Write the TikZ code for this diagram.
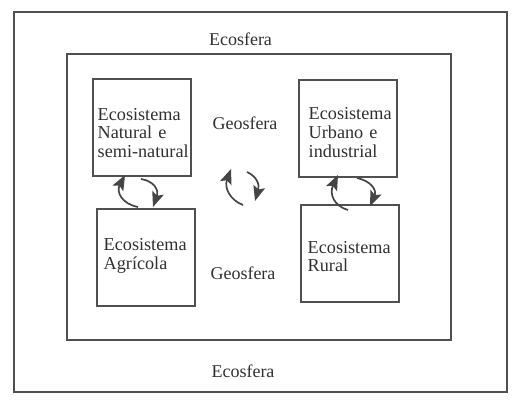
\documentclass[tikz,border=0pt]{standalone}
\usepackage{fontspec}
\setmainfont{Liberation Serif}
\usetikzlibrary{arrows.meta}
\definecolor{linegray}{HTML}{505050}
\definecolor{textgray}{HTML}{303030}
\definecolor{arrowgray}{HTML}{454545}
\tikzset{
  frame/.style={draw=linegray, line width=2pt},
  ecobox/.style={draw=linegray, line width=2pt, minimum width=98pt, minimum height=97pt, inner sep=0pt},
  ecotext/.style={text width=92pt, inner sep=0pt, align=left, text=textgray, anchor=west,
    font=\fontsize{18.2pt}{18.6pt}\selectfont},
  label/.style={text=textgray, inner sep=0pt, font=\fontsize{18pt}{18.6pt}\selectfont},
  cyc/.style={draw=arrowgray, line width=1.7pt, -{Stealth[length=15pt,width=12pt,inset=3pt]}}
}
\begin{document}
\begin{tikzpicture}[x=1pt,y=-1pt]
\useasboundingbox (0,0) rectangle (520,403);
\draw[frame] (14,12) rectangle (507,392);
\draw[frame] (67,54) rectangle (451,340);

\node[ecobox] (nat) at (142,128) {};
\node[ecobox] (agr) at (146,257.5) {};
\node[ecobox] (urb) at (348,128.5) {};
\node[ecobox] (rur) at (349.5,254) {};

\node[ecotext] (natT) at (97.5,133) {Ecosistema\\Natural e\\semi-natural};
\node[ecotext] (agrT) at (103.5,256) {Ecosistema\\Agrícola};
\node[ecotext] (urbT) at (308.5,132.5) {Ecosistema\\Urbano e\\industrial};
\node[ecotext] (rurT) at (307.5,256.5) {Ecosistema\\Rural};

\node[label] (eco1) at (240.5,39) {Ecosfera};
\node[label] (eco2) at (243,371) {Ecosfera};
\node[label] (geo1) at (245,123) {Geosfera};
\node[label] (geo2) at (243,273) {Geosfera};

% left pair
\coordinate (l1s) at (138,207);
\coordinate (l1e) at (125,175);
\coordinate (l2s) at (141,179);
\coordinate (l2e) at (153,207);
\draw[cyc] (l1s) .. controls (122,204) and (116,192) .. (l1e);
\draw[cyc] (l2s) .. controls (154,181) and (159,190) .. (l2e);
% middle pair
\coordinate (m1s) at (243,205);
\coordinate (m1e) at (231,169);
\coordinate (m2s) at (247,172);
\coordinate (m2e) at (255,201);
\draw[cyc] (m1s) .. controls (230,200) and (224,188) .. (m1e);
\draw[cyc] (m2s) .. controls (256,176) and (260,184) .. (m2e);
% right pair
\coordinate (r1s) at (348,210);
\coordinate (r1e) at (338,175);
\coordinate (r2s) at (357,178);
\coordinate (r2e) at (370,206);
\draw[cyc] (r1s) .. controls (334,206) and (329,194) .. (r1e);
\draw[cyc] (r2s) .. controls (371,181) and (377,190) .. (r2e);
\end{tikzpicture}
\end{document}
